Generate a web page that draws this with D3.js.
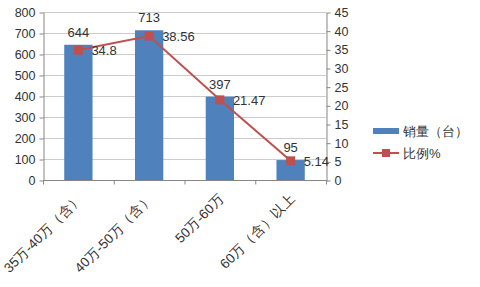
<!DOCTYPE html>
<meta charset="utf-8">
<style>
    body { margin: 0; background: #fff; }
    text { font: 12px "Liberation Sans", Arial, sans-serif; fill: #333; }
    .axis path, .axis line { stroke: #868686; }
    .grid line { stroke: #cccccc; }
</style>
<svg width="480" height="287"></svg>
<script src="https://cdn.jsdelivr.net/npm/d3@7"></script>
<script>

    var categories = ["35万-40万（含）", "40万-50万（含）", "50万-60万", "60万（含）以上"];
    var sales = [644, 713, 397, 95];
    var share = [34.8, 38.56, 21.47, 5.14];
    var shareLabels = ["34.8", "38.56", "21.47", "5.14"];
    var leftTicks = [0, 100, 200, 300, 400, 500, 600, 700, 800];
    var rightTicks = [0, 5, 10, 15, 20, 25, 30, 35, 40, 45];

    var blue = "#4f81bd", red = "#c0504d";

    var svg = d3.select("svg"),
        plotLeft = 43, plotRight = 326, plotTop = 12, plotBottom = 180;

    var x = d3.scaleBand().domain(categories).range([plotLeft, plotRight]);
    var y = d3.scaleLinear().domain([0, 800]).range([plotBottom, plotTop]);
    var y2 = d3.scaleLinear().domain([0, 45]).range([plotBottom, plotTop]);

    // gridlines
    svg.append("g").attr("class", "grid")
        .selectAll("line").data(leftTicks.slice(1)).enter().append("line")
        .attr("x1", plotLeft).attr("x2", plotRight)
        .attr("y1", function(d) { return y(d) + 0.5; })
        .attr("y2", function(d) { return y(d) + 0.5; });

    // bars
    var bw = x.bandwidth() * 0.4;
    svg.selectAll(".bar").data(sales).enter().append("rect")
        .attr("class", "bar")
        .attr("x", function(d, i) { return x(categories[i]) + x.bandwidth() / 2 - bw / 2; })
        .attr("y", function(d) { return y(d); })
        .attr("width", bw)
        .attr("height", function(d) { return plotBottom - y(d); })
        .attr("fill", blue);

    // axes
    var yAxis = svg.append("g").attr("class", "axis")
        .attr("transform", "translate(" + (plotLeft + 0.5) + ",0.5)")
        .call(d3.axisLeft(y).tickValues(leftTicks).tickSize(4).tickSizeOuter(0).tickPadding(4));
    yAxis.selectAll("text").style("font-size", "12.5px");

    var y2Axis = svg.append("g").attr("class", "axis")
        .attr("transform", "translate(" + (plotRight + 0.5) + ",0.5)")
        .call(d3.axisRight(y2).tickValues(rightTicks).tickSize(4).tickSizeOuter(0).tickPadding(4));
    y2Axis.selectAll("text").style("font-size", "12.5px");

    var xAxis = svg.append("g").attr("class", "axis")
        .attr("transform", "translate(0," + (plotBottom + 0.5) + ")");
    xAxis.append("line").attr("x1", plotLeft).attr("x2", plotRight + 1);
    xAxis.selectAll(".tk").data(d3.range(categories.length + 1)).enter().append("line")
        .attr("x1", function(i) { return plotLeft + i * x.step() + 0.5; })
        .attr("x2", function(i) { return plotLeft + i * x.step() + 0.5; })
        .attr("y1", 0).attr("y2", 4);
    xAxis.selectAll(".lbl").data(categories).enter().append("text")
        .attr("text-anchor", "end")
        .style("font-size", "13.5px")
        .attr("transform", function(d) {
            return "translate(" + (x(d) + x.bandwidth() / 2 + 5) + ",19) rotate(-45)";
        })
        .text(function(d) { return d; });

    // bar labels
    svg.selectAll(".blabel").data(sales).enter().append("text")
        .attr("text-anchor", "middle")
        .attr("x", function(d, i) { return x(categories[i]) + x.bandwidth() / 2; })
        .attr("y", function(d) { return y(d) - 8; })
        .style("font-size", "13px")
        .text(function(d) { return d; });

    // line
    var line = d3.line()
        .x(function(d, i) { return x(categories[i]) + x.bandwidth() / 2; })
        .y(function(d) { return y2(d); });

    svg.append("path").datum(share)
        .attr("d", line)
        .attr("fill", "none")
        .attr("stroke", red)
        .attr("stroke-width", 2);

    svg.selectAll(".mk").data(share).enter().append("rect")
        .attr("x", function(d, i) { return x(categories[i]) + x.bandwidth() / 2 - 4.5; })
        .attr("y", function(d) { return y2(d) - 4.5; })
        .attr("width", 9).attr("height", 9)
        .attr("fill", red);

    svg.selectAll(".llabel").data(share).enter().append("text")
        .attr("x", function(d, i) { return x(categories[i]) + x.bandwidth() / 2 + 13; })
        .attr("y", function(d) { return y2(d) + 5; })
        .style("font-size", "13px")
        .text(function(d, i) { return shareLabels[i]; });

    // legend
    var lg = svg.append("g").attr("transform", "translate(373,131)");
    lg.append("rect").attr("x", 0).attr("y", -3).attr("width", 26).attr("height", 6).attr("fill", blue);
    lg.append("text").attr("x", 30).attr("y", 5).style("font-size", "13px").text("销量（台）");
    lg.append("line").attr("x1", 0).attr("x2", 26).attr("y1", 22).attr("y2", 22)
        .attr("stroke", red).attr("stroke-width", 2);
    lg.append("rect").attr("x", 9).attr("y", 18).attr("width", 8).attr("height", 8).attr("fill", red);
    lg.append("text").attr("x", 30).attr("y", 27).style("font-size", "13px").text("比例%");

</script>
